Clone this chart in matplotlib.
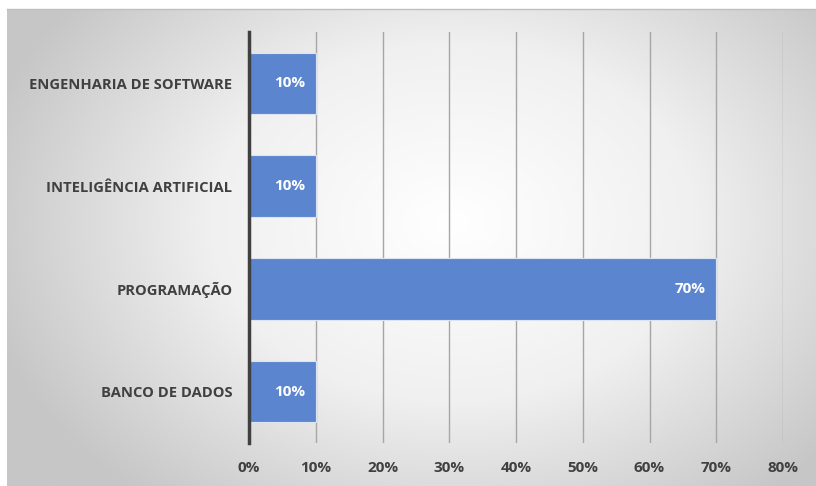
import numpy as np
import matplotlib.pyplot as plt
from matplotlib.colors import LinearSegmentedColormap

categories = ["BANCO DE DADOS", "PROGRAMAÇÃO", "INTELIGÊNCIA ARTIFICIAL", "ENGENHARIA DE SOFTWARE"]
values = [10, 70, 10, 10]
xticks = [0, 10, 20, 30, 40, 50, 60, 70, 80]

plt.rcParams['font.family'] = ['Open Sans', 'DejaVu Sans']

W, H = 816, 486
fig = plt.figure(figsize=(W / 100, H / 100), dpi=100)
fig.patch.set_facecolor('white')

# Radial gradient panel behind the chart
bg = fig.add_axes([7 / W, 0, 1 - 7 / W, 1 - 9 / H], zorder=0)
ny, nx = 300, 500
yy, xx = np.mgrid[0:ny, 0:nx]
cx, cy = 0.55 * nx, 0.55 * ny
r = np.sqrt(((xx - cx) / (0.6 * nx)) ** 2 + ((yy - cy) / (0.75 * ny)) ** 2)
r = np.clip(r, 0, 1)
cmap = LinearSegmentedColormap.from_list('bg', ['#ffffff', '#f0f0f0', '#c6c6c6'])
bg.imshow(r, cmap=cmap, aspect='auto', extent=[0, 1, 0, 1], origin='lower', vmin=0, vmax=1)
bg.set_axis_off()
fig.add_artist(plt.Line2D([7 / W, 1], [1 - 9 / H, 1 - 9 / H], color='#bfbfbf', lw=1))

ax = fig.add_axes([249 / W, 1 - 443 / H, (783 - 249) / W, (443 - 32) / H], zorder=1)
ax.patch.set_alpha(0)

y = np.arange(len(categories))
ax.barh(y, values, height=0.6, color='#5b86cf', edgecolor='#dce4f2', linewidth=0.8, zorder=3)

for yi, v in zip(y, values):
    ax.text(v - 1.6, yi, f"{v}%", ha='right', va='center', color='white',
            fontsize=11, fontweight='bold', zorder=4)

ax.set_xlim(0, 80)
ax.set_ylim(-0.5, len(categories) - 0.5)
ax.set_xticks(xticks)
ax.set_xticklabels([f"{t}%" for t in xticks], fontsize=11)
ax.set_yticks(y)
ax.set_yticklabels(categories, fontsize=10.6)
ax.grid(axis='x', color='#a6a6a6', linewidth=1, zorder=0)
ax.set_axisbelow(True)

for s in ['top', 'right', 'bottom']:
    ax.spines[s].set_visible(False)
ax.spines['left'].set_color('#404040')
ax.spines['left'].set_linewidth(2.5)
ax.spines['left'].set_zorder(5)

ax.tick_params(axis='both', length=0, colors='#404040')
ax.tick_params(axis='y', pad=12)
ax.tick_params(axis='x', pad=13)
for lbl in ax.get_xticklabels() + ax.get_yticklabels():
    lbl.set_fontweight('bold')

fig.savefig('out.png', dpi=100)
